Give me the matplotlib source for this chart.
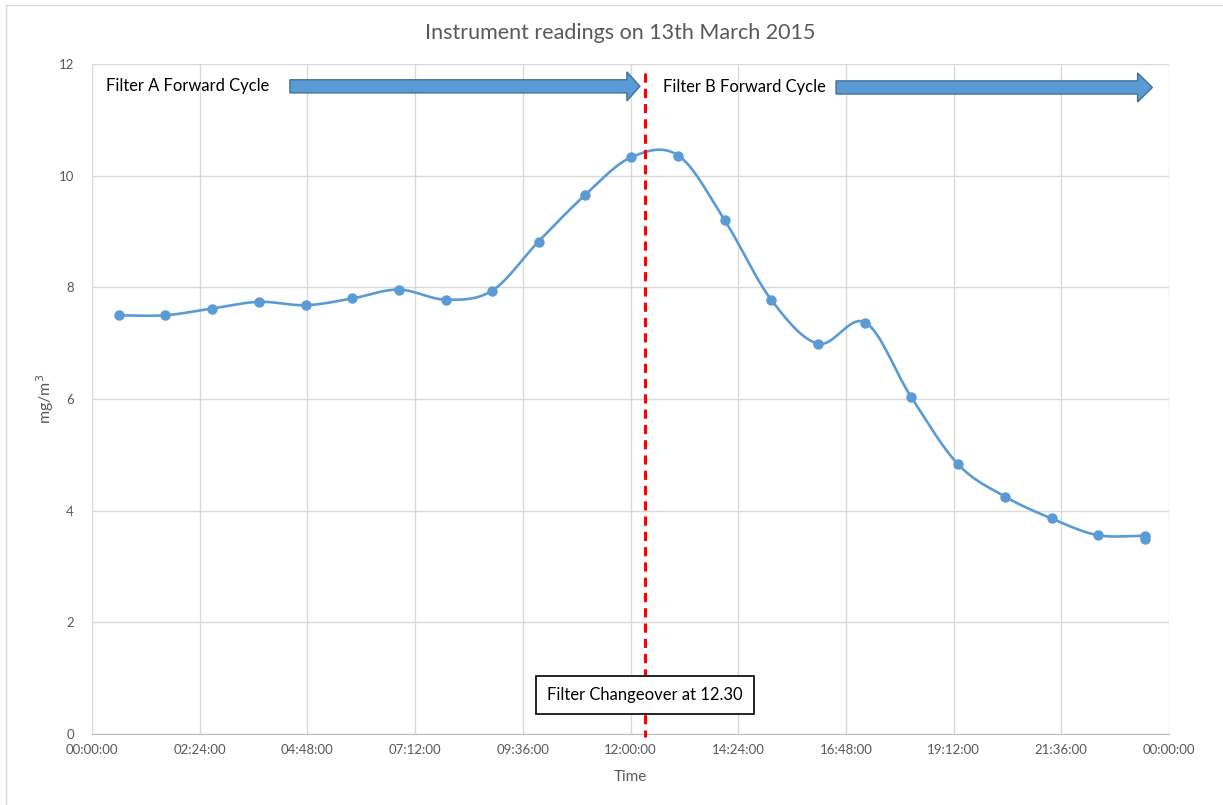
import matplotlib.pyplot as plt
import numpy as np
from matplotlib.patches import FancyArrow
from matplotlib.lines import Line2D

# readings (time of day, mg/m3)
times = ["00:36", "01:38", "02:40", "03:43", "04:46", "05:48", "06:50", "07:53",
         "08:55", "09:57", "10:59", "12:01", "13:04", "14:06", "15:08", "16:11",
         "17:14", "18:15", "19:18", "20:21", "21:23", "22:25", "23:28", "23:28"]
readings = [7.50, 7.50, 7.62, 7.74, 7.68, 7.80, 7.96, 7.78,
            7.94, 8.82, 9.65, 10.33, 10.36, 9.20, 7.78, 6.99,
            7.37, 6.04, 4.83, 4.25, 3.86, 3.56, 3.55, 3.49]

changeover_hour = 12.32
xticks = np.arange(0, 24.01, 2.4)
yticks = [0, 2, 4, 6, 8, 10, 12]

blue = '#5B9BD5'
grey = '#595959'
FONT = 'Lato'


def to_hours(s):
    h, m = s.split(':')
    return int(h) + int(m) / 60.0


def hms(h):
    total = int(round(h * 3600)) % (24 * 3600)
    return '%02d:%02d:%02d' % (total // 3600, (total % 3600) // 60, total % 60)


def catmull_rom(px, py, n=20):
    # smoothed line like the spreadsheet's "smooth line" option
    P = np.column_stack([np.asarray(px, float), np.asarray(py, float)])
    P = np.vstack([P[0], P, P[-1]])
    out = []
    t = np.linspace(0, 1, n)[:, None]
    for i in range(1, len(P) - 2):
        p0, p1, p2, p3 = P[i - 1], P[i], P[i + 1], P[i + 2]
        c1 = p1 + (p2 - p0) / 6.0
        c2 = p2 - (p3 - p1) / 6.0
        seg = ((1 - t) ** 3) * p1 + 3 * ((1 - t) ** 2) * t * c1 + 3 * (1 - t) * t ** 2 * c2 + t ** 3 * p2
        out.append(seg)
    out = np.vstack(out)
    return out[:, 0], out[:, 1]


x = np.array([to_hours(s) for s in times])
y = np.array(readings)

fig = plt.figure(figsize=(12.23, 8.05), dpi=100)
ax = fig.add_axes([92 / 1223, 71 / 805, 1077 / 1223, 670 / 805])

sx, sy = catmull_rom(x, y)
ax.plot(sx, sy, color=blue, linewidth=1.9, zorder=3)
ax.plot(x, y, linestyle='none', marker='o', markersize=6.5, color=blue, zorder=4)

ax.set_xlim(0, 24)
ax.set_ylim(0, 12)
ax.set_xticks(xticks)
ax.set_xticklabels([hms(v) for v in xticks])
ax.set_yticks(yticks)
ax.grid(True, color='#D9D9D9', linewidth=1)
ax.set_axisbelow(True)
for side in ['top', 'right', 'left']:
    ax.spines[side].set_visible(False)
ax.spines['bottom'].set_color('#BFBFBF')
ax.tick_params(length=0, labelcolor=grey, labelsize=9.5)
ax.tick_params(axis='y', pad=13)
ax.tick_params(axis='x', pad=7)
for lab in ax.get_xticklabels() + ax.get_yticklabels():
    lab.set_family(FONT)

ax.set_xlabel('Time', color=grey, fontsize=11, family=FONT, labelpad=10)
ax.set_ylabel('mg/m$^3$', color=grey, fontsize=11.5, family=FONT, labelpad=2)

# changeover marker
ax.plot([changeover_hour, changeover_hour], [11.84, -0.05], color='red',
        linewidth=2.2, dashes=(3, 2), clip_on=False, zorder=5)
ax.text(changeover_hour, 0.7, 'Filter Changeover at 12.30', ha='center', va='center',
        fontsize=12, family=FONT, color='black', zorder=6,
        bbox=dict(boxstyle='square,pad=0.65', facecolor='white', edgecolor='black', linewidth=1.2))

# cycle arrows
for x0, x1, yc, hl in [(4.41, 12.21, 11.60, 0.29), (16.58, 23.63, 11.58, 0.33)]:
    ax.add_patch(FancyArrow(x0, yc, x1 - x0, 0, width=0.235, head_width=0.52,
                            head_length=hl, length_includes_head=True,
                            facecolor=blue, edgecolor='#41719C', linewidth=1, zorder=5))
ax.text(0.31, 11.6, 'Filter A Forward Cycle', ha='left', va='center',
        fontsize=11.9, family=FONT, color='black')
ax.text(12.72, 11.58, 'Filter B Forward Cycle', ha='left', va='center',
        fontsize=11.9, family=FONT, color='black')

fig.text(620 / 1223, 1 - 33 / 805, 'Instrument readings on 13th March 2015',
         ha='center', va='center', fontsize=15.5, family=FONT, color=grey)

# chart area border (left and top edges visible)
fig.add_artist(Line2D([6 / 1223, 6 / 1223], [0, 1 - 5 / 805], color='#D9D9D9', linewidth=1))
fig.add_artist(Line2D([6 / 1223, 1], [1 - 5 / 805, 1 - 5 / 805], color='#D9D9D9', linewidth=1))

plt.savefig('out.png', dpi=100)
plt.close()
